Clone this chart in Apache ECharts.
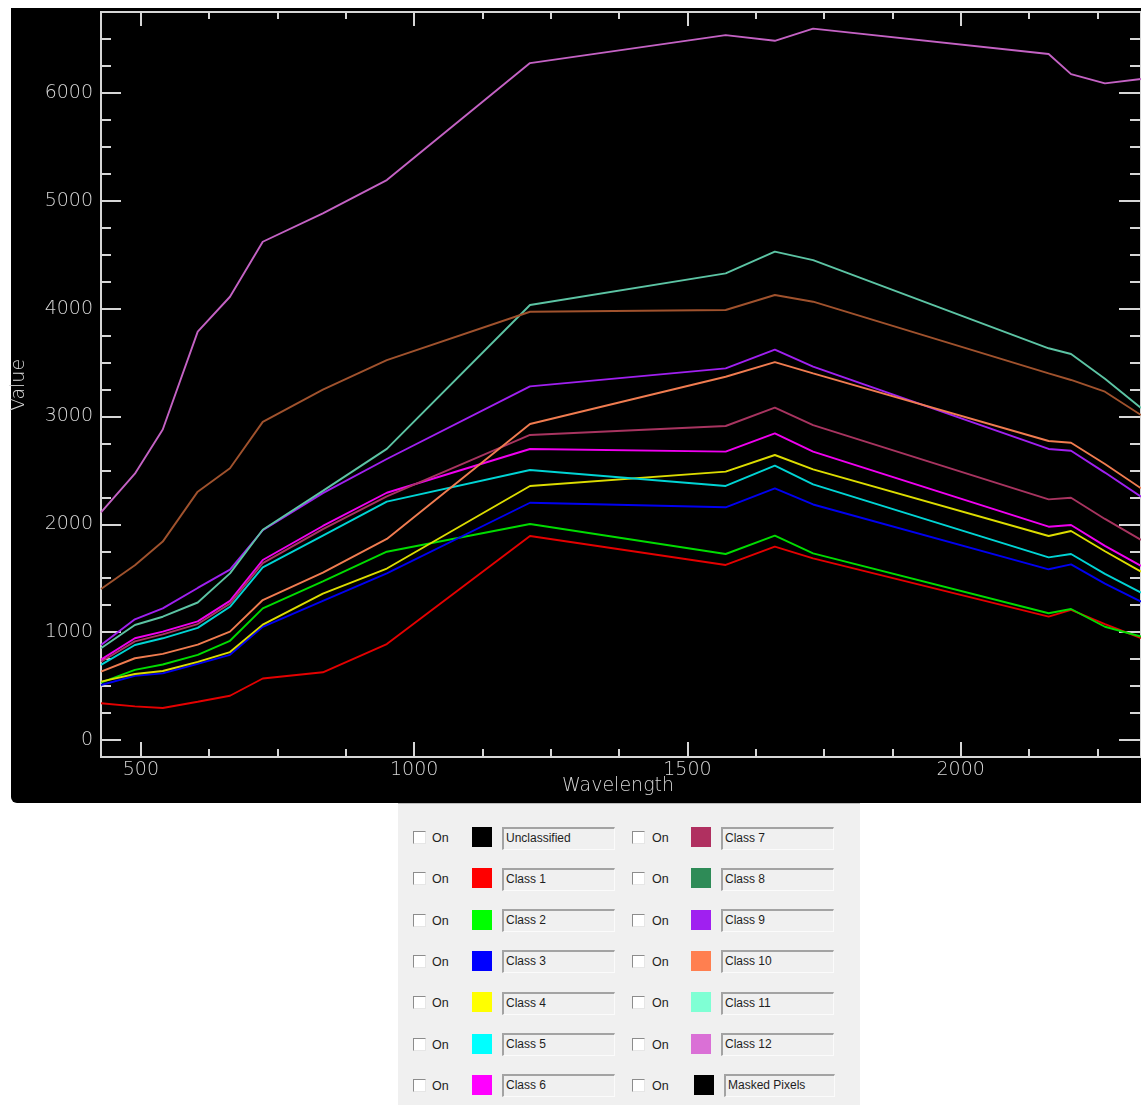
<!DOCTYPE html>
<html>
<head>
<meta charset="utf-8">
<script src="https://cdn.jsdelivr.net/npm/echarts@6/dist/echarts.min.js"></script>
<style>
  html, body { margin: 0; padding: 0; background: #fff; overflow: hidden; }
  #chart { position: absolute; left: 0; top: 0; width: 1141px; height: 1105px; }
  #panel {
    position: absolute; left: 398px; top: 803px; width: 462px; height: 302px;
    background: #f0f0f0; border-top: 1px solid #bdbdbd; box-sizing: border-box;
    font-family: 'Liberation Sans', Arial, sans-serif; font-size: 12px; color: #1e1e1e;
  }
  .cb { position: absolute; width: 11px; height: 11px; background: #fff;
        border-style: solid; border-width: 1px; border-color: #8c8c8c #e6e6e6 #e6e6e6 #8c8c8c; }
  .on { position: absolute; font-size: 12.5px; line-height: 14px; }
  .sw { position: absolute; width: 20px; height: 20px; }
  .tf { position: absolute; height: 23px; box-sizing: border-box; padding-left: 2px;
        border-style: solid; border-width: 2px 1px 1px 2px;
        border-color: #a3a3a3 #fbfbfb #fbfbfb #a3a3a3; line-height: 19px; white-space: nowrap; }
</style>
</head>
<body>
<div id="chart"></div>
<div id="panel"></div>
<script>
// Band centres (nm) shared by every class spectrum
const wavelengths = [427, 489, 540, 604, 663, 723, 833, 950, 1212, 1570, 1660, 1730, 2161, 2202, 2264, 2330];

// Mean spectrum per class
const class1  = [340, 312, 297, 355, 410, 570, 628, 890, 1892, 1623, 1793, 1685, 1144, 1206, 1075, 945];
const class2  = [532, 650, 700, 790, 920, 1220, 1470, 1746, 2003, 1725, 1895, 1731, 1175, 1215, 1050, 960];
const class3  = [510, 594, 618, 705, 790, 1050, 1290, 1545, 2200, 2158, 2334, 2184, 1583, 1629, 1450, 1283];
const class4  = [541, 612, 640, 725, 815, 1070, 1358, 1590, 2356, 2489, 2643, 2510, 1892, 1938, 1750, 1561];
const class5  = [696, 881, 943, 1040, 1235, 1600, 1895, 2210, 2504, 2356, 2544, 2370, 1694, 1725, 1540, 1366];
const class6  = [745, 943, 1005, 1100, 1290, 1669, 1985, 2293, 2699, 2674, 2844, 2674, 1978, 1994, 1800, 1614];
const class7  = [725, 915, 980, 1075, 1265, 1640, 1955, 2260, 2829, 2912, 3083, 2921, 2232, 2247, 2050, 1855];
const class9  = [880, 1119, 1221, 1410, 1580, 1945, 2290, 2606, 3280, 3447, 3620, 3462, 2699, 2683, 2480, 2256];
const class10 = [634, 758, 798, 885, 1005, 1298, 1552, 1865, 2931, 3369, 3505, 3400, 2773, 2757, 2560, 2334];
const class11 = [850, 1066, 1143, 1275, 1545, 1950, 2310, 2700, 4034, 4328, 4529, 4451, 3633, 3580, 3350, 3080];
const class12 = [2110, 2470, 2880, 3787, 4111, 4621, 4885, 5193, 6278, 6538, 6485, 6598, 6362, 6176, 6090, 6130];
const class13 = [1400, 1620, 1840, 2303, 2520, 2950, 3250, 3524, 3972, 3988, 4127, 4065, 3400, 3339, 3230, 3014];

// Axis ticks and labels
const xMajorTicks = [500, 1000, 1500, 2000];
const xMinorTicks = [625, 750, 875, 1125, 1250, 1375, 1625, 1750, 1875, 2125, 2250];
const yMajorTicks = [0, 1000, 2000, 3000, 4000, 5000, 6000];
const yMinorTicks = [250, 500, 750, 1250, 1500, 1750, 2250, 2500, 2750, 3250, 3500, 3750,
                     4250, 4500, 4750, 5250, 5500, 5750, 6250, 6500, 6750];

// Class list shown in the panel below the plot
const panelLeftNames  = ['Unclassified', 'Class 1', 'Class 2', 'Class 3', 'Class 4', 'Class 5', 'Class 6'];
const panelLeftColors = ['#000000', '#ff0000', '#00ff00', '#0000ff', '#ffff00', '#00ffff', '#ff00ff'];
const panelRightNames  = ['Class 7', 'Class 8', 'Class 9', 'Class 10', 'Class 11', 'Class 12', 'Masked Pixels'];
const panelRightColors = ['#b03060', '#2e8b57', '#a020f0', '#ff7f50', '#7fffd4', '#da70d6', '#000000'];

// ---- plot ----
const X_MIN = 427, X_MAX = 2330, Y_MIN = -158, Y_MAX = 6752;
const AXIS = '#d6d6d6';
const LABEL_FONT = '"DejaVu Sans", sans-serif';

const spectra = [
  { name: 'Class 1',  values: class1,  color: '#e40000' },
  { name: 'Class 2',  values: class2,  color: '#00dc00' },
  { name: 'Class 3',  values: class3,  color: '#0000f0' },
  { name: 'Class 4',  values: class4,  color: '#dcdc00' },
  { name: 'Class 5',  values: class5,  color: '#00d4d4' },
  { name: 'Class 6',  values: class6,  color: '#f000f0' },
  { name: 'Class 7',  values: class7,  color: '#a83460' },
  { name: 'Class 9',  values: class9,  color: '#a020f0' },
  { name: 'Class 10', values: class10, color: '#f07c50' },
  { name: 'Class 11', values: class11, color: '#5cc4a4' },
  { name: 'Class 12', values: class12, color: '#c462c4' },
  { name: 'Class 13', values: class13, color: '#a0522d' }
];

const plainNumber = v => String(v);

function xAxisDef(position, ticks, len, withLabels) {
  return {
    type: 'value', gridIndex: 0, position: position, min: X_MIN, max: X_MAX,
    axisLine: { show: true, onZero: false, lineStyle: { color: AXIS, width: 2 } },
    axisTick: { show: true, inside: true, length: len, customValues: ticks,
                lineStyle: { color: AXIS, width: 2 } },
    axisLabel: { show: withLabels, customValues: ticks, margin: 4, color: AXIS,
                 formatter: plainNumber,
                 fontFamily: LABEL_FONT, fontSize: 19, fontWeight: 200 },
    splitLine: { show: false }
  };
}
function yAxisDef(position, ticks, len, withLabels) {
  return {
    type: 'value', gridIndex: 0, position: position, min: Y_MIN, max: Y_MAX,
    axisLine: { show: true, onZero: false, lineStyle: { color: AXIS, width: 2 } },
    axisTick: { show: true, inside: true, length: len, customValues: ticks,
                lineStyle: { color: AXIS, width: 2 } },
    axisLabel: { show: withLabels, customValues: ticks, margin: 8, color: AXIS,
                 formatter: plainNumber,
                 fontFamily: LABEL_FONT, fontSize: 19, fontWeight: 200 },
    splitLine: { show: false }
  };
}

const chart = echarts.init(document.getElementById('chart'), null, { renderer: 'canvas' });
chart.setOption({
  animation: false,
  backgroundColor: '#ffffff',
  grid: { left: 101, right: 0, top: 12, bottom: 348, containLabel: false },
  xAxis: [
    xAxisDef('bottom', xMajorTicks, 15, true),
    xAxisDef('bottom', xMinorTicks, 8, false),
    xAxisDef('top', xMajorTicks, 14, false),
    xAxisDef('top', xMinorTicks, 7, false)
  ],
  yAxis: [
    yAxisDef('left', yMajorTicks, 20, true),
    yAxisDef('left', yMinorTicks, 10, false),
    yAxisDef('right', yMajorTicks, 22, false),
    yAxisDef('right', yMinorTicks, 11, false)
  ],
  graphic: [
    { type: 'rect', z: -10, silent: true,
      shape: { x: 11, y: 8, width: 1130, height: 795, r: [0, 0, 0, 6] },
      style: { fill: '#000000' } },
    { type: 'text', z: 10, silent: true, x: 618, y: 786,
      style: { text: 'Wavelength', fill: AXIS, font: '200 19px "DejaVu Sans", sans-serif',
               align: 'center', verticalAlign: 'middle', textAlign: 'center', textVerticalAlign: 'middle' } },
    { type: 'text', z: 10, silent: true, x: 19, y: 385, rotation: Math.PI / 2,
      style: { text: 'Value', fill: AXIS, font: '200 19px "DejaVu Sans", sans-serif',
               align: 'center', verticalAlign: 'middle', textAlign: 'center', textVerticalAlign: 'middle' } }
  ],
  series: spectra.map(s => ({
    name: s.name, type: 'line', xAxisIndex: 0, yAxisIndex: 0,
    data: wavelengths.map((w, i) => [w, s.values[i]]),
    showSymbol: false, symbol: 'none', clip: true,
    lineStyle: { color: s.color, width: 1.9 },
    itemStyle: { color: s.color }
  }))
});

// ---- class panel ----
const panel = document.getElementById('panel');
function addRow(i, name, color, col) {
  const cy = 33 + i * 41.33;
  const masked = name === 'Masked Pixels';
  const c = col === 0
    ? { cb: 15, on: 34, sw: 74, tf: 104 }
    : { cb: 234, on: 254, sw: masked ? 296 : 293, tf: masked ? 326 : 323 };
  const cb = document.createElement('div');
  cb.className = 'cb'; cb.style.left = c.cb + 'px'; cb.style.top = (cy - 6) + 'px';
  const on = document.createElement('div');
  on.className = 'on'; on.textContent = 'On'; on.style.left = c.on + 'px'; on.style.top = (cy - 6) + 'px';
  const sw = document.createElement('div');
  sw.className = 'sw'; sw.style.background = color; sw.style.left = c.sw + 'px'; sw.style.top = (cy - 10) + 'px';
  const tf = document.createElement('div');
  tf.className = 'tf'; tf.textContent = name; tf.style.left = c.tf + 'px'; tf.style.top = (cy - 10.5) + 'px';
  tf.style.width = (masked ? 111 : 113) + 'px';
  panel.append(cb, on, sw, tf);
}
panelLeftNames.forEach((n, i) => addRow(i, n, panelLeftColors[i], 0));
panelRightNames.forEach((n, i) => addRow(i, n, panelRightColors[i], 1));
</script>
</body>
</html>
